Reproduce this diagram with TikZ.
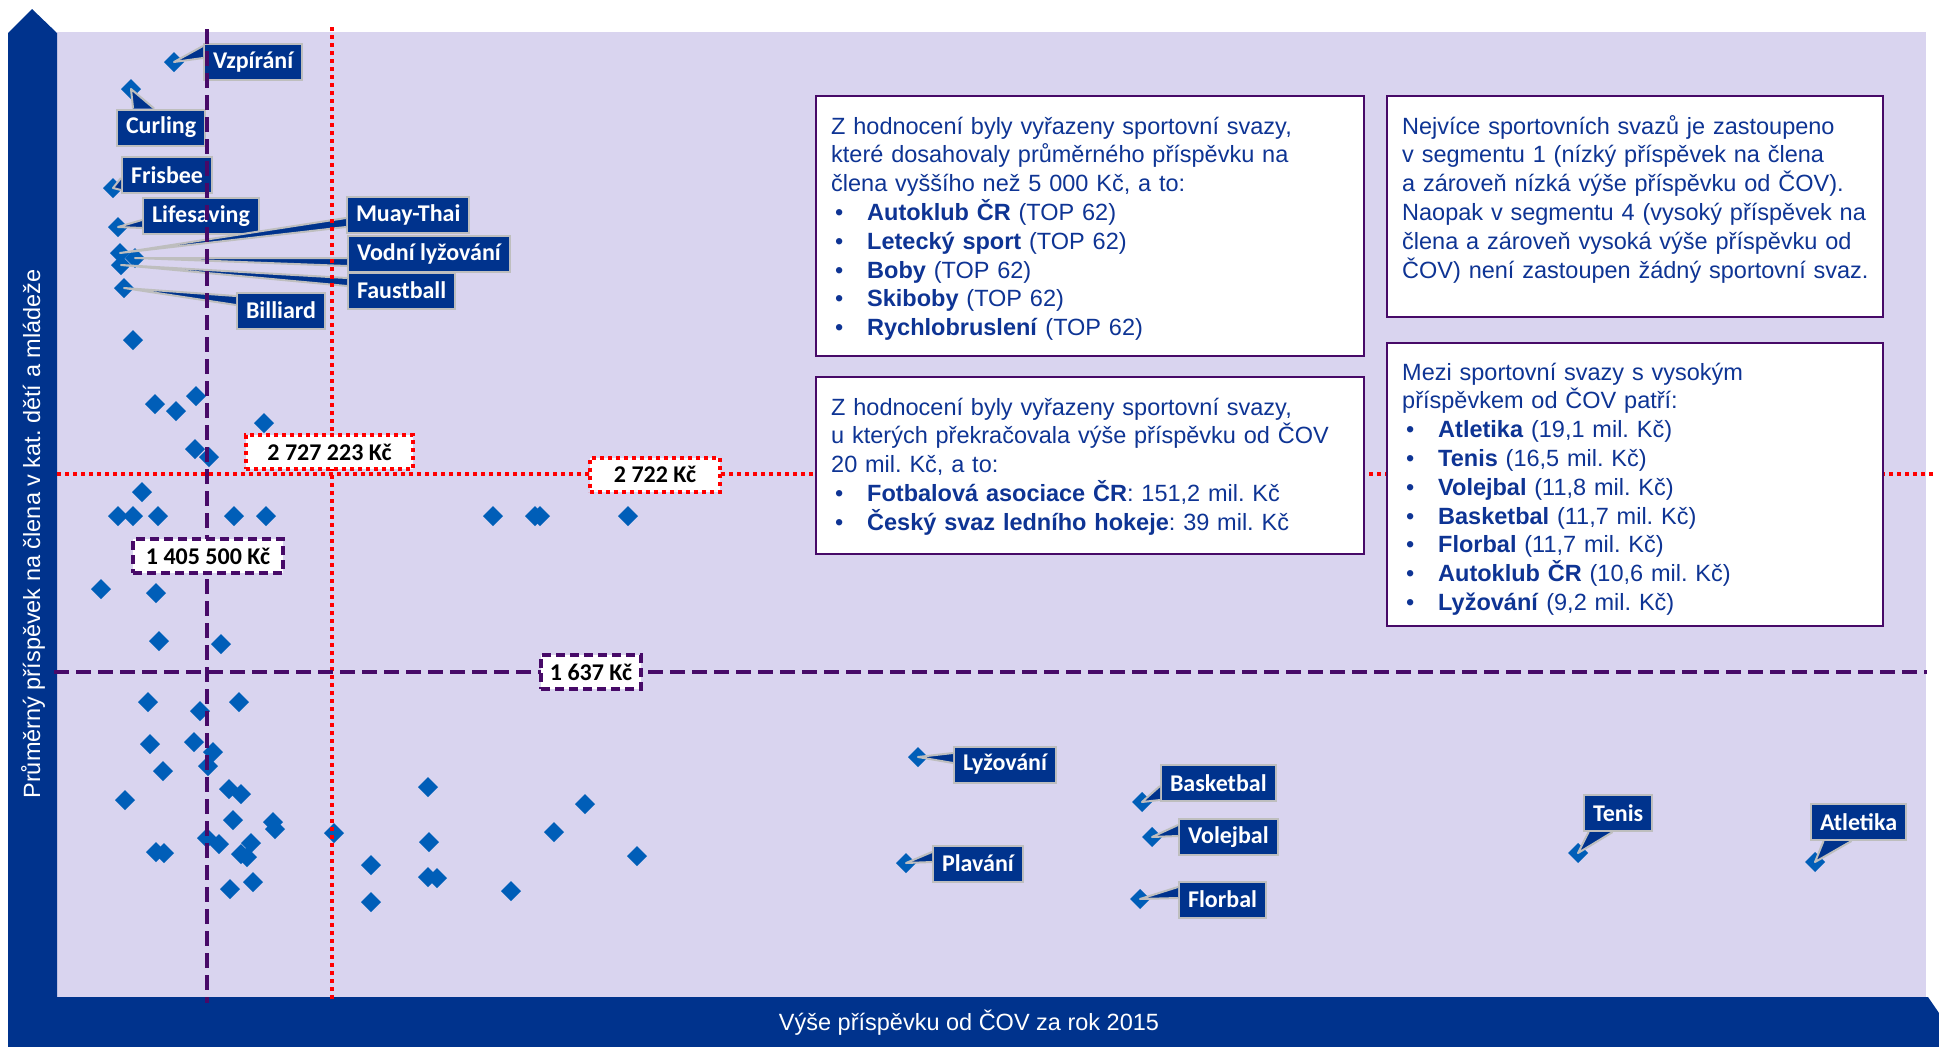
\documentclass[tikz,border=0pt]{standalone}
\usepackage{fontspec}
\setmainfont{Liberation Sans}
\newfontfamily\tagfont{Carlito}
\frenchspacing

\definecolor{kpmgblue}{RGB}{0,51,141}
\definecolor{plotbg}{RGB}{217,212,239}
\definecolor{dotblue}{RGB}{0,94,184}
\definecolor{linepurple}{RGB}{71,10,104}
\definecolor{taggray}{RGB}{190,190,190}
\definecolor{textblue}{RGB}{14,52,148}

\newcommand\bul{\makebox[36pt][l]{\hspace{4pt}•}}
\newcommand\callout[3]{%
  \fill[kpmgblue] (#1) -- (#2) -- (#3) -- cycle;
  \draw[calloutline] (#1) -- (#2) -- (#3);}

\tikzset{
  dia/.pic={\fill[dotblue] (0,-10) -- (10,0) -- (0,10) -- (-10,0) -- cycle;},
  tag/.style={fill=kpmgblue, draw=taggray, line width=2pt, text=white,
    font=\tagfont\bfseries\fontsize{24}{28}\selectfont,
    inner xsep=9pt, inner ysep=0pt, minimum height=36pt, anchor=west},
  calloutline/.style={draw=taggray, line width=2pt, line join=round},
  reddots/.style={draw=red, line width=4pt, dash pattern=on 4pt off 4pt},
  purpledash/.style={draw=linepurple, line width=3.5pt, dash pattern=on 15pt off 7pt},
  purplebox/.style={draw=linepurple, line width=3.5pt, dash pattern=on 9pt off 5pt},
  vallabel/.style={fill=white, text=black,
    font=\tagfont\bfseries\fontsize{24}{28}\selectfont,
    inner sep=0pt, minimum height=34pt},
  infobox/.style={fill=white, draw=linepurple, line width=2.5pt},
  infotext/.style={text=textblue, font=\fontsize{23.5}{28.8}\selectfont,
    text width=520pt, align=left, inner sep=0pt, anchor=base west},
  axistext/.style={text=white, font=\fontsize{23.5}{28}\selectfont, inner sep=0pt}
}

\begin{document}
\begin{tikzpicture}[x=1pt, y=-1pt]
	\useasboundingbox (0,0) rectangle (1939,1047);
	% plot area and axes
	\fill[plotbg] (57,32) rectangle (1926,997);
	\fill[kpmgblue] (8,1047) -- (8,33) -- (32,9) -- (57,33) -- (57,1047) -- cycle;
	\fill[kpmgblue] (8,997) -- (1928,997) -- (1939,1013) -- (1939,1047) -- (8,1047) -- cycle;
	\node[axistext, rotate=90] (ylab) at (33,534) {Průměrný příspěvek na člena v kat. dětí a mládeže};
	\node[axistext] (xlab) at (969,1023) {Výše příspěvku od ČOV za rok 2015};

	% data points
	\foreach \px/\py in {133/340, 155/404, 176/411, 196/396, 264/423, 195/449, 209/457,
		142/492, 118/516, 133/516, 158/516, 234/516, 266/516, 493/516, 535/516, 540/516,
		628/516, 101/589, 156/593, 159/641, 221/644, 148/702, 239/702, 200/711, 150/744,
		194/742, 213/752, 208/766, 163/771, 125/800, 229/789, 241/794, 428/787, 233/820,
		273/822, 275/829, 334/833, 585/804, 554/832, 429/842, 207/838, 219/844, 251/843,
		156/852, 164/853, 241/854, 247/857, 637/856, 371/865, 428/877, 437/878, 253/882,
		230/889, 511/891, 371/902}
		\pic at (\px,\py) {dia};
	\coordinate (dvzp) at (174,62);
	\coordinate (dcur) at (131,89);
	\coordinate (dfri) at (113,188);
	\coordinate (dlif) at (118,227);
	\coordinate (dmuay) at (120,253);
	\coordinate (dvod) at (135,258);
	\coordinate (dfau) at (121,265);
	\coordinate (dbil) at (124,288);
	\coordinate (dlyz) at (918,757);
	\coordinate (dbas) at (1142,802);
	\coordinate (dvol) at (1152,837);
	\coordinate (dpla) at (906,863);
	\coordinate (dflo) at (1140,899);
	\coordinate (dten) at (1578,853);
	\coordinate (datl) at (1815,862);
	\foreach \d in {dvzp,dcur,dfri,dlif,dmuay,dvod,dfau,dbil,dlyz,dbas,dvol,dpla,dflo,dten,datl}
		\pic at (\d) {dia};

	% named sports
	\node[tag] (vzp) at (203,62) {Vzpírání};
	\node[tag] (cur) at (116,127.5) {Curling};
	\node[tag] (fri) at (121,175) {Frisbee};
	\node[tag] (lif) at (142,216) {Lifesaving};
	\node[tag] (muay) at (346,214.5) {Muay-Thai};
	\node[tag] (vod) at (347,254) {Vodní lyžování};
	\node[tag] (fau) at (347,290.5) {Faustball};
	\node[tag] (bil) at (236,310.5) {Billiard};
	\node[tag] (lyz) at (953,764.5) {Lyžování};
	\node[tag] (bas) at (1160,783) {Basketbal};
	\node[tag] (vol) at (1178,837) {Volejbal};
	\node[tag] (pla) at (932,863.5) {Plavání};
	\node[tag] (flo) at (1178,899.5) {Florbal};
	\node[tag] (ten) at (1583,813) {Tenis};
	\node[tag] (atl) at (1810,822) {Atletika};
	\callout{[yshift=16pt]vzp.west}{dvzp}{[yshift=4pt]vzp.west}
	\callout{[xshift=-28pt]cur.north}{dcur}{[xshift=-7pt]cur.north}
	\callout{[yshift=-3pt]fri.west}{dfri}{[yshift=-15pt]fri.west}
	\callout{[yshift=-4pt]lif.west}{dlif}{[yshift=-12pt]lif.west}
	\callout{[yshift=-3.5pt]muay.west}{dmuay}{[yshift=-12.5pt]muay.west}
	\callout{[yshift=-4pt]vod.west}{dvod}{[yshift=-12pt]vod.west}
	\callout{[yshift=12.5pt]fau.west}{dfau}{[yshift=4.5pt]fau.west}
	\callout{[yshift=14.5pt]bil.west}{dbil}{[yshift=5.5pt]bil.west}
	\callout{[yshift=11.5pt]lyz.west}{dlyz}{[yshift=1.5pt]lyz.west}
	\callout{[yshift=-3pt]bas.west}{dbas}{[yshift=-17pt]bas.west}
	\callout{[yshift=12pt]vol.west}{dvol}{[yshift=1pt]vol.west}
	\callout{[yshift=11.5pt]pla.west}{dpla}{[yshift=1.5pt]pla.west}
	\callout{[yshift=12.5pt]flo.west}{dflo}{[yshift=1.5pt]flo.west}
	\callout{[xshift=-29.5pt]ten.south}{dten}{[xshift=-5.5pt]ten.south}
	\callout{[xshift=-35pt]atl.south}{datl}{[xshift=-7pt]atl.south}

	% thresholds
	\draw[purpledash] (207,29) -- (207,1003);
	\draw[reddots] (332,27) -- (332,1002);
	\draw[reddots] (57,474) -- (1935,474);
	\draw[purpledash] (54,672) -- (1927,672);
	\node[vallabel, reddots, minimum width=167pt] (medA) at (329.5,452) {2 727 223 Kč};
	\node[vallabel, reddots, minimum width=130pt] (medB) at (655,474.5) {2 722 Kč};
	\node[vallabel, purplebox, minimum width=150pt] (avgA) at (208,556) {1 405 500 Kč};
	\node[vallabel, purplebox, minimum width=100pt] (avgB) at (591,672) {1 637 Kč};

	% notes
	\draw[infobox] (816,96) rectangle (1364,356);
	\node[infotext] (noteA) at (831,134) {Z hodnocení byly vyřazeny sportovní svazy,\\
		které dosahovaly průměrného příspěvku na\\
		člena vyššího než 5 000 Kč, a to:\\
		\bul\textbf{Autoklub ČR} (TOP 62)\\
		\bul\textbf{Letecký sport} (TOP 62)\\
		\bul\textbf{Boby} (TOP 62)\\
		\bul\textbf{Skiboby} (TOP 62)\\
		\bul\textbf{Rychlobruslení} (TOP 62)};
	\draw[infobox] (816,377) rectangle (1364,554);
	\node[infotext] (noteB) at (831,415) {Z hodnocení byly vyřazeny sportovní svazy,\\
		u kterých překračovala výše příspěvku od ČOV\\
		20 mil. Kč, a to:\\
		\bul\textbf{Fotbalová asociace ČR}: 151,2 mil. Kč\\
		\bul\textbf{Český svaz ledního hokeje}: 39 mil. Kč};
	\draw[infobox] (1387,96) rectangle (1883,317);
	\node[infotext] (noteC) at (1402,134) {Nejvíce sportovních svazů je zastoupeno\\
		v segmentu 1 (nízký příspěvek na člena\\
		a zároveň nízká výše příspěvku od ČOV).\\
		Naopak v segmentu 4 (vysoký příspěvek na\\
		člena a zároveň vysoká výše příspěvku od\\
		ČOV) není zastoupen žádný sportovní svaz.};
	\draw[infobox] (1387,343) rectangle (1883,626);
	\node[infotext] (noteD) at (1402,380) {Mezi sportovní svazy s vysokým\\
		příspěvkem od ČOV patří:\\
		\bul\textbf{Atletika} (19,1 mil. Kč)\\
		\bul\textbf{Tenis} (16,5 mil. Kč)\\
		\bul\textbf{Volejbal} (11,8 mil. Kč)\\
		\bul\textbf{Basketbal} (11,7 mil. Kč)\\
		\bul\textbf{Florbal} (11,7 mil. Kč)\\
		\bul\textbf{Autoklub ČR} (10,6 mil. Kč)\\
		\bul\textbf{Lyžování} (9,2 mil. Kč)};
\end{tikzpicture}
\end{document}
